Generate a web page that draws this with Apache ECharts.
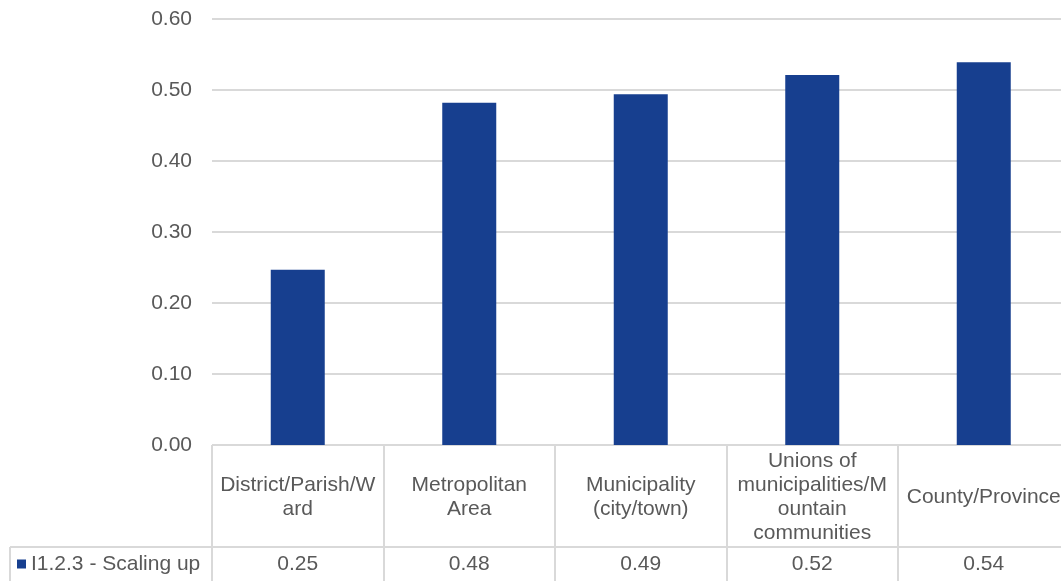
<!DOCTYPE html>
<html>
<head>
<meta charset="utf-8">
<script src="https://cdn.jsdelivr.net/npm/echarts@6/dist/echarts.min.js"></script>
<style>
html,body{margin:0;padding:0;background:#fff;overflow:hidden;width:1061px;height:581px;}
#chart{width:1072px;height:581px;}
</style>
</head>
<body>
<div id="chart"></div>
<script>
const categories = ['District/Parish/Ward', 'Metropolitan Area', 'Municipality (city/town)', 'Unions of municipalities/Mountain communities', 'County/Province'];
const categoryLabels = ['District/Parish/W\nard', 'Metropolitan\nArea', 'Municipality\n(city/town)', 'Unions of\nmunicipalities/M\nountain\ncommunities', 'County/Province'];
const seriesName = 'I1.2.3 - Scaling up';
const values = [0.247, 0.482, 0.494, 0.521, 0.539];
const yTicks = [0, 0.1, 0.2, 0.3, 0.4, 0.5, 0.6];

const FONT = '"Liberation Sans", Arial, sans-serif';
const TXT = '#595959';
const GRID = '#d9d9d9';
const BAR = '#173f8f';

const chart = echarts.init(document.getElementById('chart'), null, {renderer: 'canvas'});
chart.setOption({
  animation: false,
  textStyle: {fontFamily: FONT},
  grid: {left: 212, top: 19, width: 857.5, height: 426, containLabel: false},
  legend: {
    data: [seriesName],
    left: 17, top: 552, padding: 0,
    icon: 'rect', itemWidth: 9, itemHeight: 9, itemGap: 5,
    textStyle: {color: TXT, fontSize: 21, fontFamily: FONT, lineHeight: 24, padding: [0, 0, 0, 0]}
  },
  xAxis: [
    {
      type: 'category', data: categories, position: 'bottom',
      axisLine: {show: true, lineStyle: {color: GRID, width: 1}},
      axisTick: {show: true, interval: 0, length: 136, lineStyle: {color: GRID, width: 2}},
      axisLabel: {
        interval: 0, margin: 52, verticalAlign: 'middle', color: TXT, fontSize: 21, lineHeight: 24, fontFamily: FONT,
        formatter: (v, i) => categoryLabels[i]
      },
      splitLine: {show: false}
    },
    {
      type: 'category', data: values.map(v => v.toFixed(2)), position: 'bottom',
      axisLine: {show: false}, axisTick: {show: false},
      axisLabel: {interval: 0, margin: 119, verticalAlign: 'middle', color: TXT, fontSize: 21, fontFamily: FONT}
    }
  ],
  yAxis: {
    type: 'value', min: 0, max: 0.6, interval: 0.1,
    axisLine: {show: false}, axisTick: {show: false},
    axisLabel: {margin: 20, color: TXT, fontSize: 21, fontFamily: FONT, formatter: v => v.toFixed(2)},
    splitLine: {lineStyle: {color: GRID, width: 2}}
  },
  graphic: [
    {type: 'line', shape: {x1: 10, y1: 547, x2: 1072, y2: 547}, style: {stroke: GRID, lineWidth: 2}},
    {type: 'line', shape: {x1: 10, y1: 547, x2: 10, y2: 581}, style: {stroke: GRID, lineWidth: 2}}
  ],
  series: [{
    name: seriesName, type: 'bar', data: values, xAxisIndex: 0,
    barWidth: 54, itemStyle: {color: BAR}
  }]
});
</script>
</body>
</html>
